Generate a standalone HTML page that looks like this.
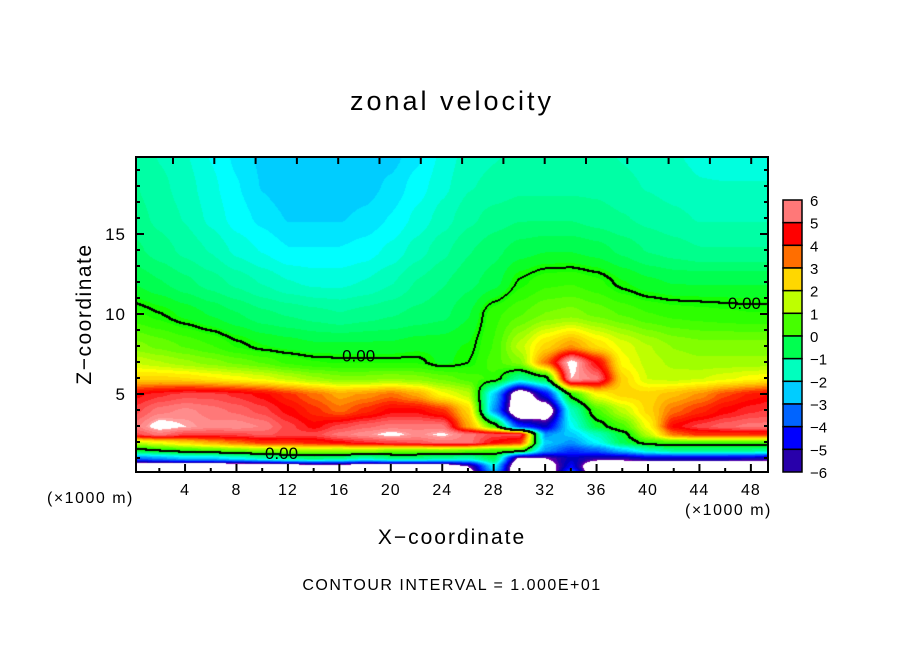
<!DOCTYPE html>
<html><head><meta charset="utf-8"><style>
body{margin:0;background:#fff;}
#wrap{position:relative;width:904px;height:654px;background:#fff;font-family:"Liberation Sans",sans-serif;overflow:hidden}
.t{position:absolute;color:#000;white-space:nowrap}
</style></head><body>
<div id="wrap">
<div class="t" style="left:0;width:904px;text-align:center;top:86px;font-size:27px;letter-spacing:3px">zonal velocity</div>
<div class="t" style="left:85px;top:314px;font-size:21px;letter-spacing:1.5px;transform:translate(-50%,-50%) rotate(-90deg)">Z−coordinate</div>
<div class="t" style="left:0;width:904px;text-align:center;top:526px;font-size:21px;letter-spacing:2px">X−coordinate</div>
<div class="t" style="left:0;width:904px;text-align:center;top:577px;font-size:16px;letter-spacing:1.5px">CONTOUR INTERVAL = 1.000E+01</div>
<div class="t" style="left:47px;top:490px;font-size:16px;letter-spacing:1.5px">(×1000 m)</div>
<div class="t" style="left:685px;top:502px;font-size:16px;letter-spacing:1.5px">(×1000 m)</div>
<canvas id="cv" width="632" height="315" style="position:absolute;left:136px;top:157px"></canvas>
<svg id="ov" width="904" height="654" style="position:absolute;left:0;top:0"></svg>
</div>
<script>
const xCols=[0,2,4,6,8,10,12,14,16,18,20,22,24,26,28,30,32,34,36,38,40,42,44,46,48,50];
const zRows=[0,0.5,1,1.5,2,2.5,3,4,5,6,7,8,10,12,14,16,18,20];
const uValues=[
[-8,-8,-8,-8,-8,-8,-8,-8,-8,-8,-8,-8,-8,-7,-3,-8,-8,-3,-8,-8,-8,-8,-8,-8,-8,-8],
[-8,-8,-8,-8,-8,-8,-7.5,-7,-7,-7.5,-7.5,-7.5,-7.5,-6,-2,-8,-7,-4.5,-8,-8,-8,-8,-8,-8,-8,-8],
[-3.5,-3,-2.5,-2.5,-2,-1.5,-1,-0.8,-1,-1.5,-1,-1,-1.2,-1.5,-0.5,-6.5,-6,-5,-5.5,-5.5,-5,-5,-5,-5,-5.2,-5.5],
[-0.3,0,0.3,0.5,0.8,1,1.2,1.3,1.2,1.2,1,1,1,0.8,0.5,0.5,-3,-4,-3.5,-2.5,-1.5,-1,-1,-1,-1,-1.2],
[1.5,2,2.5,3,3.5,4,4,4.2,4.5,4.8,5,5.2,5.5,5.5,4.5,4,-2.5,-3,-2,-0.5,0.3,0.5,0.5,0.5,0.5,0.3],
[5,5.5,5,5,5,5.2,5,5,5.5,5.8,6.2,5.8,6.1,5.5,5,5,-3,-2.5,-1.5,-0.3,1.5,3.5,4,4,4,4],
[5.5,6.3,6,5.7,5.8,5.6,5,4.5,5,5.3,5.5,5.5,5.5,3,0.5,-4,-5,-2,-0.3,0.5,2,4.5,5,5.3,5.5,5.5],
[5,5.5,5.7,5.5,5.3,5,4.5,4,3.5,4,4.5,4.5,4,2.5,-3,-8,-7.5,-1.5,0.5,1.5,2.5,3.5,4,4.5,4.8,5],
[4.5,4.8,5,5,4.8,4.5,4,3.5,3,3.2,3.5,3,2,1.5,-2.5,-7.5,-4.5,0.2,2,2.5,2.5,2.8,3.2,3.8,4.2,4.5],
[2.5,2.5,2.4,2.2,2,1.8,1.5,1.2,1,1,1.1,1,0.8,0.5,0.3,-1.2,-0.3,6,5.5,2.5,1.6,1.5,1.6,1.8,2,2.2],
[1.6,1.4,1.2,1,0.8,0.6,0.3,0.15,0.1,0.1,0.1,0.1,-0.2,0,0.5,1,3.5,6.3,4.5,2,1.5,1.3,1.2,1.2,1.2,1.2],
[1,0.8,0.6,0.4,0.1,-0.1,-0.2,-0.3,-0.3,-0.3,-0.3,-0.2,-0.2,-0.1,0.4,1.5,2.5,3.2,2.4,1.8,1.4,1.1,1,1,1,1],
[0.2,0.02,-0.2,-0.4,-0.6,-0.8,-0.9,-1,-1.1,-1,-0.9,-0.8,-0.7,-0.4,0.3,0.6,0.9,1,0.8,0.6,0.4,0.3,0.25,0.2,0.15,0.15],
[-0.4,-0.6,-0.8,-1,-1.2,-1.4,-1.6,-1.7,-1.7,-1.6,-1.4,-1.1,-0.9,-0.7,-0.5,0.05,0.3,0.35,0.2,-0.1,-0.3,-0.4,-0.4,-0.4,-0.4,-0.4],
[-0.8,-1,-1.2,-1.4,-1.7,-1.9,-2.1,-2.1,-2.1,-2,-1.8,-1.5,-1.2,-0.9,-0.7,-0.5,-0.4,-0.4,-0.5,-0.7,-0.9,-1,-1.1,-1.1,-1.1,-1.1],
[-1,-1.2,-1.4,-1.7,-2,-2.2,-2.4,-2.4,-2.4,-2.3,-2.1,-1.8,-1.5,-1.2,-1,-0.9,-0.9,-0.9,-1,-1.1,-1.2,-1.3,-1.4,-1.4,-1.4,-1.4],
[-1.1,-1.3,-1.5,-1.8,-2.1,-2.4,-2.6,-2.6,-2.6,-2.5,-2.3,-2,-1.7,-1.4,-1.3,-1.2,-1.2,-1.2,-1.2,-1.3,-1.4,-1.5,-1.6,-1.6,-1.6,-1.6],
[-1.2,-1.4,-1.6,-1.9,-2.2,-2.45,-2.6,-2.6,-2.6,-2.6,-2.5,-2.2,-1.8,-1.5,-1.4,-1.3,-1.3,-1.3,-1.3,-1.4,-1.5,-1.6,-1.7,-1.8,-1.8,-1.8]];
const xTickLabels=[4,8,12,16,20,24,28,32,36,40,44,48];
const zTickLabels=[5,10,15];
const cbarLabels=[6,5,4,3,2,1,0,-1,-2,-3,-4,-5,-6];
const contourLabels=[{x:17.5,z:7.4,t:"0.00"},{x:47.5,z:10.7,t:"0.00"},{x:11.5,z:1.3,t:"0.00"}];

const X0=133.6,XS=12.86,Z0=474,ZS=16;
const px=x=>X0+x*XS, pz=z=>Z0-z*ZS;
const stops=[[-6,[120,0,170]],[-5.5,[40,0,170]],[-5,[0,0,190]],[-4.5,[0,0,255]],[-4,[0,50,255]],[-3.5,[0,100,255]],[-3,[0,150,255]],[-2.5,[0,205,255]],[-2,[0,255,255]],[-1.5,[0,255,190]],[-1,[0,255,140]],[-0.5,[0,255,80]],[0,[20,255,0]],[0.5,[70,255,0]],[1,[130,255,0]],[1.5,[190,255,0]],[2,[255,255,0]],[2.5,[255,215,0]],[3,[255,170,0]],[3.5,[255,110,0]],[4,[255,40,0]],[4.5,[255,0,0]],[5,[255,70,70]],[5.5,[255,120,120]],[6,[255,160,160]]];
function cmap(v){
  if(v>6||v<-6)return[255,255,255];
  v=Math.round(v*4)/4;
  for(let i=0;i<stops.length-1;i++){const a=stops[i],b=stops[i+1];
    if(v<=b[0]){const t=(v-a[0])/(b[0]-a[0]);return a[1].map((c,k)=>Math.round(c+(b[1][k]-c)*t));}}
  return stops[stops.length-1][1];
}
function field(x,z){
  x=Math.max(0,Math.min(50,x));z=Math.max(0,Math.min(20,z));
  let i=Math.min(xCols.length-2,Math.floor(x/2));let tx=(x-xCols[i])/(xCols[i+1]-xCols[i]);
  let j=0;while(j<zRows.length-2&&z>zRows[j+1])j++;let tz=(z-zRows[j])/(zRows[j+1]-zRows[j]);
  tx=tx*tx*(3-2*tx)*0.5+tx*0.5; tz=tz*tz*(3-2*tz)*0.5+tz*0.5;
  const a=uValues[j][i],b=uValues[j][i+1],c=uValues[j+1][i],d=uValues[j+1][i+1];
  return (a*(1-tx)+b*tx)*(1-tz)+(c*(1-tx)+d*tx)*tz;
}
const cv=document.getElementById('cv'),ctx=cv.getContext('2d');
const W=cv.width,H=cv.height,img=ctx.createImageData(W,H),vals=new Float32Array(W*H);
for(let y=0;y<H;y++)for(let x=0;x<W;x++){vals[y*W+x]=field((x+136-X0)/XS,(Z0-(y+157))/ZS);}
const edge=new Uint8Array(W*H);
for(let y=0;y<H-1;y++)for(let x=0;x<W-1;x++){const v=vals[y*W+x];
  const s=v>=0;if(s!==(vals[y*W+x+1]>=0)||s!==(vals[(y+1)*W+x]>=0))edge[y*W+x]=1;}
for(let y=0;y<H;y++)for(let x=0;x<W;x++){const k=y*W+x;let c=cmap(vals[k]);
  if(edge[k]||(x>0&&edge[k-1])||(y>0&&edge[k-W]))c=[0,0,0];
  img.data[k*4]=c[0];img.data[k*4+1]=c[1];img.data[k*4+2]=c[2];img.data[k*4+3]=255;}
ctx.putImageData(img,0,0);

const ov=document.getElementById('ov'),NS='http://www.w3.org/2000/svg';
function mk(tag,at){const e=document.createElementNS(NS,tag);for(const k in at)e.setAttribute(k,at[k]);ov.appendChild(e);return e;}
contourLabels.forEach(c=>{
  const t=mk('text',{x:px(c.x),y:pz(c.z)+6,'text-anchor':'middle','font-size':17,'font-family':'Liberation Sans, sans-serif'});t.textContent=c.t;
  
  });
const frame=mk('rect',{x:136,y:157,width:632,height:315,fill:'none',stroke:'#000','stroke-width':2});


for(let x=2;x<=48;x+=2){const major=x%4===0;const L=major?8:4;
  const t=mk('line',{x1:px(x),x2:px(x),y1:472,y2:472-L,stroke:'#000','stroke-width':2});
  
  }
for(let k=0;k<15;k++){const x=173+41.3*k;if(x>766)break;
  const t=mk('line',{x1:x,x2:x,y1:157,y2:164,stroke:'#000','stroke-width':2});
  
  }
for(let z=1;z<=19;z++){const L=z%5===0?8:4;
  const a=mk('line',{x1:136,x2:136+L,y1:pz(z),y2:pz(z),stroke:'#000','stroke-width':2});
  
  
  const b=mk('line',{x1:768,x2:768-L,y1:pz(z),y2:pz(z),stroke:'#000','stroke-width':2});
  
  }
xTickLabels.forEach(v=>{const t=mk('text',{x:px(v),y:495,'text-anchor':'middle','font-size':16,'letter-spacing':1,'font-family':'Liberation Sans, sans-serif'});t.textContent=v;
  
  });
zTickLabels.forEach(v=>{const t=mk('text',{x:126,y:pz(v)+6,'text-anchor':'end','font-size':17,'letter-spacing':1,'font-family':'Liberation Sans, sans-serif'});t.textContent=v;
  
  });
const cbTop=200,cbBot=472,n=cbarLabels.length-1,bh=(cbBot-cbTop)/n;
for(let i=0;i<n;i++){const mid=(cbarLabels[i]+cbarLabels[i+1])/2;const c=cmap(mid);
  const r=mk('rect',{x:783,y:cbTop+i*bh,width:19,height:bh,fill:`rgb(${c[0]},${c[1]},${c[2]})`,stroke:'#000','stroke-width':1.5});
  
  }
cbarLabels.forEach((v,i)=>{const t=mk('text',{x:810,y:cbTop+i*bh+6,'font-size':15,'font-family':'Liberation Sans, sans-serif'});t.textContent=v<0?'−'+(-v):v;
  
  });
</script>
</body></html>
